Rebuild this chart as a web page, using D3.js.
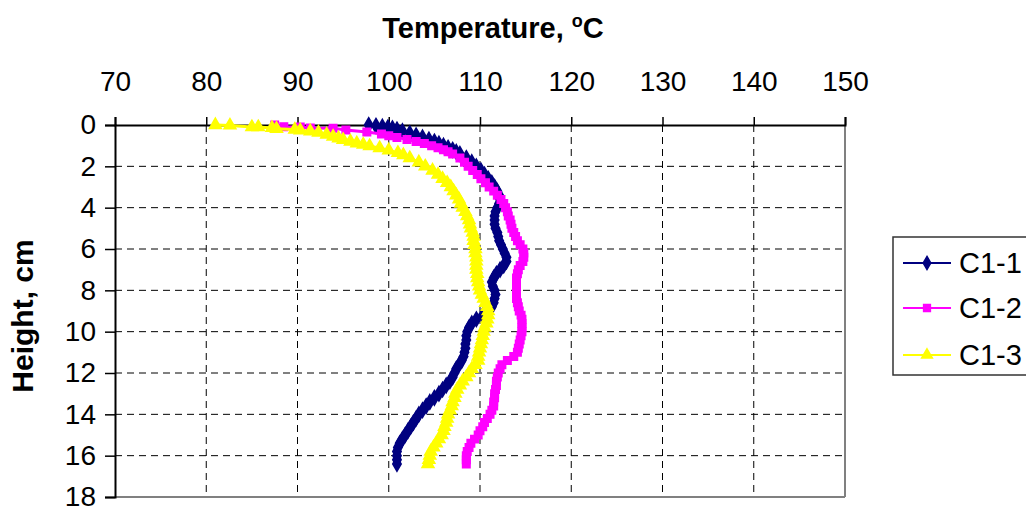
<!DOCTYPE html>
<html>
<head>
<meta charset="utf-8">
<script src="https://cdn.jsdelivr.net/npm/d3@7"></script>
<style>
  html, body { margin: 0; padding: 0; background: #fff; }
  svg { display: block; font-family: "Liberation Sans", Arial, sans-serif; }
</style>
</head>
<body>
<svg id="chart" width="1026" height="514"></svg>
<script>
// ---- data ----
const xTicks = [70, 80, 90, 100, 110, 120, 130, 140, 150];
const yTicks = [0, 2, 4, 6, 8, 10, 12, 14, 16, 18];
const seriesNames = ["C1-1", "C1-2", "C1-3"];

const c11Height = [0.00,0.04,0.08,0.12,0.16,0.22,0.3,0.4,0.5,0.6,0.7,0.8,0.9,1.0,1.1,1.2,1.3,1.4,1.6,1.8,2.0,2.2,2.4,2.6,2.8,3.0,3.2,3.4,3.6,3.8,4.0,4.2,4.4,4.6,4.8,5.0,5.2,5.4,5.6,5.8,6.0,6.2,6.4,6.6,6.8,7.0,7.2,7.4,7.6,7.8,8.0,8.2,8.4,8.6,8.8,9.0,9.2,9.4,9.6,9.8,10.0,10.2,10.4,10.6,10.8,11.0,11.2,11.4,11.6,11.8,12.0,12.2,12.4,12.6,12.8,13.0,13.2,13.4,13.6,13.8,14.0,14.2,14.4,14.6,14.8,15.0,15.2,15.4,15.6,15.8,16.0,16.2,16.4];
const c11Temp = [97.8,98.6,99.3,99.9,100.4,100.9,101.5,102.3,103.0,103.7,104.4,105.0,105.5,106.0,106.5,107.0,107.4,107.8,108.5,109.1,109.6,110.1,110.5,110.9,111.3,111.6,111.9,112.1,112.2,112.1,111.9,111.7,111.6,111.6,111.6,111.7,111.9,112.0,112.1,112.3,112.5,112.7,112.9,112.9,112.6,112.2,111.8,111.5,111.3,111.4,111.6,111.7,111.6,111.5,111.3,111.0,110.3,109.6,109.1,108.8,108.6,108.5,108.5,108.4,108.4,108.3,108.2,108.0,107.7,107.4,107.2,107.0,106.7,106.3,105.9,105.5,105.0,104.5,104.1,103.7,103.3,103.0,102.7,102.4,102.1,101.8,101.5,101.2,101.0,100.9,100.9,100.9,100.9];

const c12Height = [0.00,0.08,0.10,0.14,0.16,0.24,0.34,0.44,0.52,0.6,0.7,0.8,0.9,1.0,1.1,1.2,1.3,1.4,1.6,1.8,2.0,2.2,2.4,2.6,2.8,3.0,3.2,3.4,3.6,3.8,4.0,4.2,4.4,4.6,4.8,5.0,5.2,5.4,5.6,5.8,6.0,6.2,6.4,6.6,6.8,7.0,7.2,7.4,7.6,7.8,8.0,8.2,8.4,8.6,8.8,9.0,9.2,9.4,9.6,9.8,10.0,10.2,10.4,10.6,10.8,11.0,11.2,11.4,11.6,11.8,12.0,12.2,12.4,12.6,12.8,13.0,13.2,13.4,13.6,13.8,14.0,14.2,14.4,14.6,14.8,15.0,15.2,15.4,15.6,15.8,16.0,16.2,16.4];
const c12Temp = [87.5,88.5,90.3,91.4,93.9,95.3,97.6,99.2,100.0,100.9,102.0,103.0,103.9,104.7,105.4,106.0,106.5,107.0,107.8,108.3,108.7,109.2,109.7,110.1,110.6,111.0,111.5,111.9,112.3,112.6,112.8,113.0,113.1,113.3,113.4,113.5,113.7,113.9,114.1,114.4,114.7,114.8,114.8,114.7,114.4,114.2,114.1,114.0,114.0,114.0,114.0,114.0,114.0,114.1,114.2,114.3,114.5,114.6,114.6,114.6,114.6,114.5,114.4,114.3,114.2,114.1,113.7,113.0,112.4,112.2,112.0,111.9,111.8,111.8,111.7,111.6,111.6,111.5,111.5,111.3,111.1,110.8,110.5,110.3,110.0,109.8,109.4,109.0,108.8,108.6,108.5,108.5,108.5];

const c13Height = [0.00,0.02,0.10,0.10,0.14,0.18,0.22,0.26,0.30,0.36,0.46,0.56,0.64,0.72,0.80,0.88,0.95,1.02,1.12,1.22,1.35,1.45,1.6,1.8,2.0,2.2,2.4,2.6,2.8,3.0,3.2,3.4,3.6,3.8,4.0,4.2,4.4,4.6,4.8,5.0,5.2,5.4,5.6,5.8,6.0,6.2,6.4,6.6,6.8,7.0,7.2,7.4,7.6,7.8,8.0,8.2,8.4,8.6,8.8,9.0,9.2,9.4,9.6,9.8,10.0,10.2,10.4,10.6,10.8,11.0,11.2,11.4,11.6,11.8,12.0,12.2,12.4,12.6,12.8,13.0,13.2,13.4,13.6,13.8,14.0,14.2,14.4,14.6,14.8,15.0,15.2,15.4,15.6,15.8,16.0,16.2,16.4];
const c13Temp = [81.0,82.6,85.0,85.7,87.2,87.7,89.7,90.3,91.4,92.3,93.2,93.9,94.5,95.0,95.8,96.5,97.2,97.9,99.0,100.0,101.0,101.6,102.3,103.3,104.0,104.8,105.4,105.9,106.4,106.8,107.1,107.4,107.7,107.9,108.1,108.4,108.6,108.8,108.9,109.0,109.2,109.3,109.3,109.4,109.5,109.5,109.6,109.6,109.6,109.6,109.7,109.7,109.8,109.9,110.0,110.2,110.4,110.6,110.8,110.9,110.9,110.8,110.7,110.5,110.4,110.3,110.2,110.1,110.0,109.9,109.8,109.8,109.5,109.1,108.8,108.5,108.1,107.8,107.5,107.3,107.2,107.0,106.9,106.7,106.5,106.4,106.3,106.1,106.0,105.8,105.5,105.2,104.9,104.6,104.5,104.4,104.3];

const seriesColors = ["#000080", "#FF00FF", "#FFFF00"];

// ---- build ----
const svg = d3.select("#chart");
const pL = 115, pR = 845, pT = 125, pB = 497;
const x = d3.scaleLinear().domain([70, 150]).range([pL, pR]);
const y = d3.scaleLinear().domain([0, 18]).range([pT, pB]);

const series = [
  { name: seriesNames[0], color: seriesColors[0], shape: d3.symbolDiamond, size: 62, legSize: 50,
    pts: c11Height.map((h, i) => ({ h, t: c11Temp[i] })) },
  { name: seriesNames[1], color: seriesColors[1], shape: d3.symbolSquare, size: 56, legSize: 46,
    pts: c12Height.map((h, i) => ({ h, t: c12Temp[i] })) },
  { name: seriesNames[2], color: seriesColors[2], shape: d3.symbolTriangle, size: 62, legSize: 50,
    pts: c13Height.map((h, i) => ({ h, t: c13Temp[i] })) }
];

// gridlines
const grid = svg.append("g");
grid.selectAll("line.vg").data(xTicks.filter(v => v > 70 && v < 150)).join("line")
  .attr("x1", d => x(d)).attr("x2", d => x(d)).attr("y1", pT).attr("y2", pB)
  .attr("stroke", "#000").attr("stroke-width", 1).attr("stroke-dasharray", "7,5");
grid.selectAll("line.hg").data(yTicks.filter(v => v > 0 && v < 18)).join("line")
  .attr("x1", pL).attr("x2", pR).attr("y1", d => y(d)).attr("y2", d => y(d))
  .attr("stroke", "#000").attr("stroke-width", 1).attr("stroke-dasharray", "7,5");

// right & bottom border (gray)
svg.append("line").attr("x1", pR).attr("x2", pR).attr("y1", pT).attr("y2", pB)
  .attr("stroke", "#808080").attr("stroke-width", 2);
svg.append("line").attr("x1", pL).attr("x2", pR).attr("y1", pB).attr("y2", pB)
  .attr("stroke", "#808080").attr("stroke-width", 2);

// top axis
const xAxis = d3.axisTop(x).tickValues(xTicks).tickSize(8).tickPadding(26).tickFormat(d3.format("d"));
const gx = svg.append("g").attr("transform", `translate(0,${pT})`).call(xAxis);
gx.select(".domain").attr("stroke", "#000").attr("stroke-width", 2);
gx.selectAll(".tick line").attr("stroke", "#000").attr("stroke-width", 1.5);
gx.selectAll(".tick text").attr("font-size", 28).attr("fill", "#000")
  .attr("font-family", "'Liberation Sans', Arial, sans-serif");

// left axis
const yAxis = d3.axisLeft(y).tickValues(yTicks).tickSize(10).tickPadding(9).tickFormat(d3.format("d"));
const gy = svg.append("g").attr("transform", `translate(${pL},0)`).call(yAxis);
gy.select(".domain").attr("stroke", "#000").attr("stroke-width", 2);
gy.selectAll(".tick line").attr("stroke", "#000").attr("stroke-width", 1.5);
gy.selectAll(".tick text").attr("font-size", 28).attr("fill", "#000")
  .attr("font-family", "'Liberation Sans', Arial, sans-serif");

// series
const line = d3.line().x(d => x(d.t)).y(d => y(d.h));
const plot = svg.append("g");
series.forEach(s => {
  plot.append("path").datum(s.pts).attr("d", line)
    .attr("fill", "none").attr("stroke", s.color).attr("stroke-width", 3);
  plot.selectAll(null).data(s.pts).join("path")
    .attr("transform", d => `translate(${x(d.t)},${y(d.h)})`)
    .attr("d", d3.symbol().type(s.shape).size(s.size))
    .attr("fill", s.color).attr("stroke", s.color).attr("stroke-width", 1.5);
});

// axis titles
const title = svg.append("text").attr("x", 493).attr("y", 38).attr("text-anchor", "middle")
  .attr("font-size", 29).attr("font-weight", "bold").attr("fill", "#000");
title.append("tspan").text("Temperature, ");
title.append("tspan").attr("font-size", 18).attr("dy", -11).text("o");
title.append("tspan").attr("dy", 11).text("C");

svg.append("text").attr("transform", "translate(22,316) rotate(-90)")
  .attr("text-anchor", "middle").attr("font-size", 30).attr("font-weight", "bold")
  .attr("fill", "#000").attr("dy", "0.36em").text("Height, cm");

// legend
const lg = svg.append("g");
lg.append("rect").attr("x", 893).attr("y", 237).attr("width", 140).attr("height", 138)
  .attr("fill", "#fff").attr("stroke", "#333").attr("stroke-width", 1.5);
const rows = [263, 308, 355];
series.forEach((s, i) => {
  const g = lg.append("g").attr("transform", `translate(0,${rows[i]})`);
  g.append("line").attr("x1", 903).attr("x2", 951).attr("y1", 0).attr("y2", 0)
    .attr("stroke", s.color).attr("stroke-width", 2);
  g.append("path").attr("transform", "translate(927,0)")
    .attr("d", d3.symbol().type(s.shape).size(s.legSize))
    .attr("fill", s.color).attr("stroke", s.color).attr("stroke-width", 1.5);
  g.append("text").attr("x", 959).attr("y", 0).attr("dy", "0.36em")
    .attr("font-size", 29).attr("fill", "#000").text(s.name);
});
</script>
</body>
</html>
